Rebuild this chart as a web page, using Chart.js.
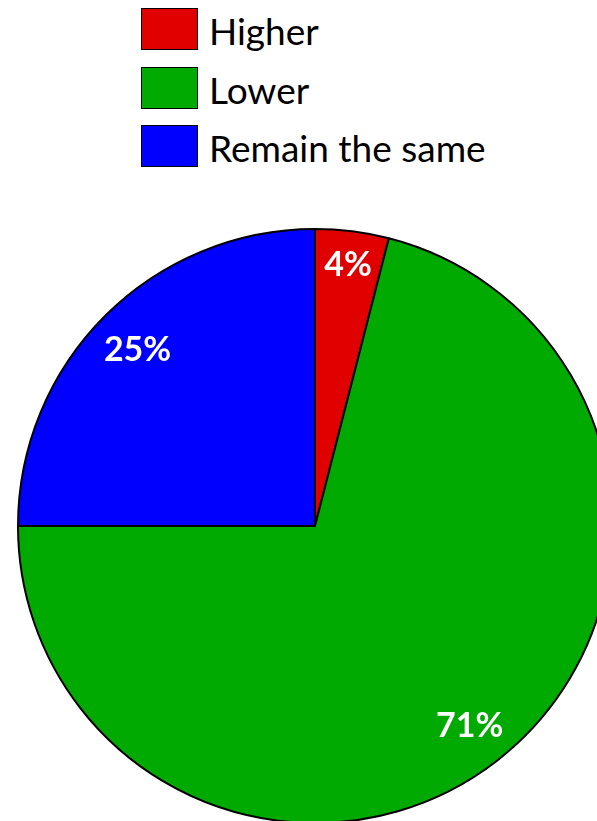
<!DOCTYPE html>
<html>
<head>
<meta charset="utf-8">
<script src="https://cdn.jsdelivr.net/npm/chart.js@4/dist/chart.umd.min.js"></script>
<style>
  html, body { margin: 0; padding: 0; width: 597px; height: 821px; overflow: hidden; background: #fff; }
  #legend { position: absolute; left: 0; top: 0; }
  .row { position: absolute; left: 141px; height: 42px; display: flex; align-items: center; white-space: nowrap; }
  .box { width: 55px; height: 40px; border: 1.5px solid #000; box-sizing: content-box; }
  .txt { margin-left: 11px; font-family: Lato, "Open Sans", sans-serif; font-size: 37px; color: #000; line-height: 42px; position: relative; top: 2px; }
  #c { position: absolute; left: 17px; top: 228px; }
</style>
</head>
<body>
<div id="legend"></div>
<canvas id="c" width="596" height="596"></canvas>
<script>
const categories = ["Higher", "Lower", "Remain the same"];
const values = [4, 71, 25];
const valueLabels = ["4%", "71%", "25%"];
const colors = ["#E00000", "#00AA00", "#0000FF"];

// HTML legend built from the data arrays
const legend = document.getElementById('legend');
categories.forEach((name, i) => {
  const row = document.createElement('div');
  row.className = 'row';
  row.style.top = (8 + i * 58.5) + 'px';
  const box = document.createElement('div');
  box.className = 'box';
  box.style.background = colors[i];
  const t = document.createElement('span');
  t.className = 'txt';
  t.textContent = name;
  row.appendChild(box);
  row.appendChild(t);
  legend.appendChild(row);
});

const labelPlugin = {
  id: 'sliceLabels',
  afterDatasetsDraw(chart, args, opts) {
    const ctx = chart.ctx;
    const meta = chart.getDatasetMeta(0);
    ctx.save();
    ctx.fillStyle = '#fff';
    ctx.font = 'bold 34px Lato, "Open Sans", sans-serif';
    ctx.textAlign = 'center';
    ctx.textBaseline = 'middle';
    meta.data.forEach((arc, i) => {
      const p = arc.getProps(['x', 'y', 'startAngle', 'endAngle', 'outerRadius'], true);
      const mid = (p.startAngle + p.endAngle) / 2;
      const r = p.outerRadius * opts.radial[i];
      ctx.fillText(valueLabels[i], p.x + Math.cos(mid) * r, p.y + Math.sin(mid) * r + 1);
    });
    ctx.restore();
  }
};

new Chart(document.getElementById('c'), {
  type: 'pie',
  data: {
    labels: categories,
    datasets: [{
      data: values,
      backgroundColor: colors,
      borderColor: '#000',
      borderWidth: 2
    }]
  },
  options: {
    responsive: false,
    animation: false,
    devicePixelRatio: 1,
    layout: { padding: 0 },
    plugins: {
      legend: { display: false },
      tooltip: { enabled: false },
      sliceLabels: { radial: [0.89, 0.85, 0.845] }
    }
  },
  plugins: [labelPlugin]
});
</script>
</body>
</html>
